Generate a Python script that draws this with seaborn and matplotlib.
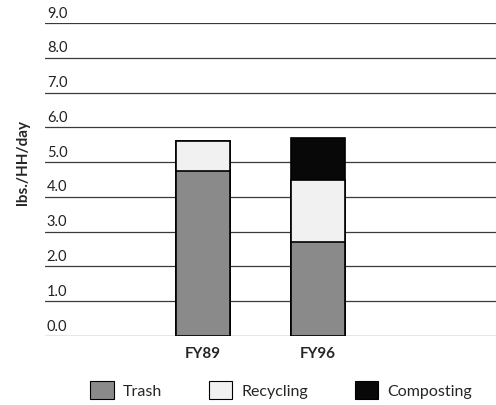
import matplotlib
matplotlib.use("Agg")
import matplotlib.pyplot as plt
import matplotlib.transforms as mtransforms
from matplotlib.patches import Patch
import seaborn as sns
import pandas as pd
import numpy as np

years = ["FY89", "FY96"]
trash = [4.75, 2.7]
recycling = [0.85, 1.8]
composting = [0.0, 1.2]
yticks = [0.0, 1.0, 2.0, 3.0, 4.0, 5.0, 6.0, 7.0, 8.0, 9.0]
series = ["Trash", "Recycling", "Composting"]
colors = {"Trash": "#8a8a8a", "Recycling": "#f1f1f1", "Composting": "#080808"}

sns.set_style("white")
plt.rcParams["font.family"] = ["Lato", "DejaVu Sans"]

df = pd.DataFrame({"year": years, "Trash": trash, "Recycling": recycling, "Composting": composting})
df["c_trash"] = df["Trash"]
df["c_rec"] = df["Trash"] + df["Recycling"]
df["c_all"] = df["c_rec"] + df["Composting"]

fig = plt.figure(figsize=(4.96, 4.06), dpi=100)
ax = fig.add_axes([45 / 496, 1 - 337 / 406, 1 - 45 / 496, (337 - 24) / 406])

for col, name in [("c_all", "Composting"), ("c_rec", "Recycling"), ("c_trash", "Trash")]:
    sns.barplot(data=df, x="year", y=col, color=colors[name], width=0.47,
                edgecolor="black", linewidth=1.2, saturation=1, ax=ax, zorder=3)

ax.set_ylim(0, 9.0)
ax.set_xlim(-1.37, 2.55)
ax.set_yticks(yticks)
ax.yaxis.grid(True, color="#3a3a3a", linewidth=0.9)
ax.set_axisbelow(True)
ax.tick_params(axis="y", left=False, labelleft=False)
ax.tick_params(axis="x", bottom=False, labelsize=11, pad=4)
for lab in ax.get_xticklabels():
    lab.set_fontweight("bold")
for s in ax.spines.values():
    s.set_visible(False)
ax.set_xlabel("")
ax.set_ylabel("")

trans = mtransforms.blended_transform_factory(ax.transAxes, ax.transData)
for v in yticks:
    ax.text(0.004, v + 0.1, f"{v:.1f}", transform=trans, ha="left", va="bottom",
            fontsize=10.5, color="#222222", clip_on=False)

fig.text(23 / 496, 1 - 163 / 406, "lbs./HH/day", rotation=90, ha="center", va="center",
         fontsize=11, fontweight="bold")

handles = [Patch(facecolor=colors[n], edgecolor="black", linewidth=0.8, label=n) for n in series]
fig.legend(handles=handles, loc="center", bbox_to_anchor=(0.567, 1 - 391 / 406), ncol=3,
           frameon=False, fontsize=11.5, handlelength=1.45, handleheight=1.45,
           handletextpad=0.6, columnspacing=2.9)

fig.savefig("out.png", dpi=100)
